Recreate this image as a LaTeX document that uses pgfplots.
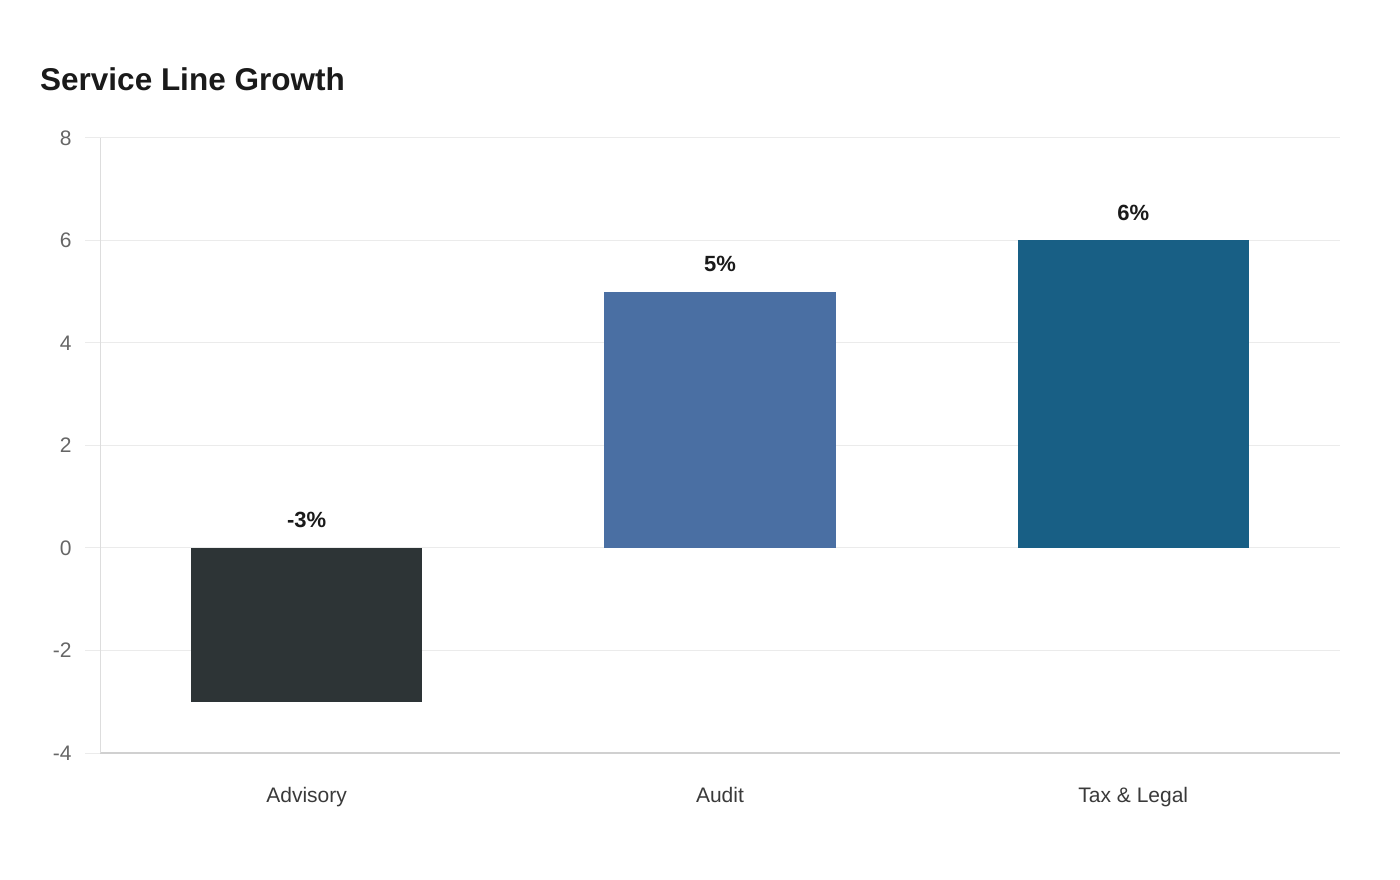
\documentclass[border=0pt]{standalone}
\usepackage{pgfplots}
\pgfplotsset{compat=1.18}
\usepackage{fontspec}
\setmainfont{Liberation Sans}
\definecolor{advc}{HTML}{2D3436}
\definecolor{audc}{HTML}{4A6FA3}
\definecolor{taxc}{HTML}{185F85}
\definecolor{gridc}{HTML}{EBEBEB}
\definecolor{xaxc}{HTML}{D0D0D0}
\definecolor{yaxc}{HTML}{DDDDDD}
\definecolor{tickc}{HTML}{666666}
\definecolor{catc}{HTML}{3A3A3A}
\definecolor{titc}{HTML}{1A1A1A}
\begin{document}
\begin{tikzpicture}
\useasboundingbox (-100bp,-127bp) rectangle (1300bp,753bp);
\node[anchor=base west, inner sep=0pt, text=titc, font=\fontsize{31.5bp}{36bp}\selectfont\bfseries] at (-60bp,662bp) {Service Line Growth};
\begin{axis}[
  at={(0,0)}, anchor=south west,
  width=1240bp, height=615bp, scale only axis,
  xmin=-0.5, xmax=2.5, ymin=-4, ymax=8,
  ytick={-4,-2,0,2,4,6,8},
  xtick={0,1,2},
  xticklabels={Advisory,Audit,Tax \& Legal},
  ybar, bar width=0.559, bar shift=0pt,
  axis x line*=bottom, axis y line*=left,
  x axis line style={-, draw=xaxc, line width=1.5bp},
  y axis line style={-, draw=yaxc, line width=1bp},
  ymajorgrids, grid style={draw=gridc, line width=1bp},
  tick align=outside,
  major tick length=15bp,
  ytick style={draw=gridc, line width=1bp},
  xtick style={draw=none},
  /pgf/number format/assume math mode=true,
  yticklabel style={font=\fontsize{21bp}{25bp}\selectfont, text=tickc, xshift=-10bp},
  xticklabel style={font=\fontsize{21bp}{25bp}\selectfont, text=catc, yshift=-16bp},
  clip=false,
]
\addplot[fill=advc, draw=none] coordinates {(0,-3)};
\addplot[fill=audc, draw=none] coordinates {(1,5)};
\addplot[fill=taxc, draw=none] coordinates {(2,6)};
\node[anchor=base, text=titc, font=\fontsize{22bp}{26bp}\selectfont\bfseries, yshift=20bp] at (axis cs:0,0) {-3\%};
\node[anchor=base, text=titc, font=\fontsize{22bp}{26bp}\selectfont\bfseries, yshift=20bp] at (axis cs:1,5) {5\%};
\node[anchor=base, text=titc, font=\fontsize{22bp}{26bp}\selectfont\bfseries, yshift=20bp] at (axis cs:2,6) {6\%};
\end{axis}
\end{tikzpicture}
\end{document}
